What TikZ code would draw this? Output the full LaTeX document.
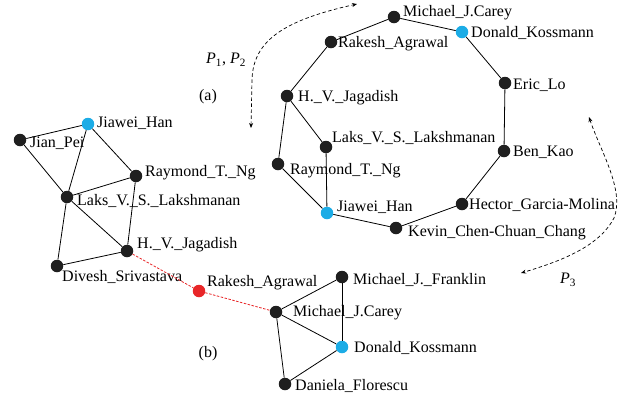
\documentclass[tikz,border=0pt]{standalone}
\usepackage{fontspec}
\setmainfont{Liberation Serif}
\usetikzlibrary{arrows.meta}
\definecolor{hanblue}{RGB}{28,172,230}
\definecolor{bridgered}{RGB}{232,38,40}
\tikzset{
  vtx/.style={circle, fill=black!88, inner sep=0pt, minimum size=12.5pt},
  blue vtx/.style={vtx, fill=hanblue},
  red vtx/.style={vtx, fill=bridgered},
  who/.style={anchor=west, inner sep=0pt, text height=11pt, text depth=3pt,
    font=\fontsize{16}{18}\selectfont},
  tag/.style={inner sep=0pt, font=\fontsize{16}{18}\selectfont},
  edge/.style={line width=0.8pt},
  walk/.style={dashed, dash pattern=on 3.5pt off 2.5pt, line width=0.7pt,
    {Stealth[length=5pt,width=4pt]}-{Stealth[length=5pt,width=4pt]}},
}
\begin{document}
\begin{tikzpicture}[x=1pt, y=-1pt]
      \useasboundingbox (0,0) rectangle (633,400);
      %
      % (b) left part
      \node[blue vtx] (bJH) at (88,124) {};
      \node[vtx] (bJP) at (20,140) {};
      \node[vtx] (bRN) at (136,176) {};
      \node[vtx] (bLL) at (67,197) {};
      \node[vtx] (bHJ) at (127,251) {};
      \node[vtx] (bDS) at (57,266) {};
      \node[red vtx] (bRA) at (199,291) {};
      \node[who] (tbJH) at (97,123) {Jiawei\_Han};
      \node[who] (tbJP) at (30,143) {Jian\_Pei};
      \node[who] (tbRN) at (145,172) {Raymond\_T.\_Ng};
      \node[who] (tbLL) at (77,201) {Laks\_V.\_S.\_Lakshmanan};
      \node[who] (tbHJ) at (137,244) {H.\_V.\_Jagadish};
      \node[who] (tbDS) at (62,277) {Divesh\_Srivastava};
      \node[who] (tbRA) at (207,282) {Rakesh\_Agrawal};
      %
      % (b) right part
      \node[vtx] (bMF) at (342,277) {};
      \node[vtx] (bMC) at (276,312) {};
      \node[blue vtx] (bDK) at (342,347) {};
      \node[vtx] (bDF) at (285,384) {};
      \node[who] (tbMF) at (353,280) {Michael\_J.\_Franklin};
      \node[who] (tbMC) at (293,312) {Michael\_J.Carey};
      \node[who] (tbDK) at (354,348) {Donald\_Kossmann};
      \node[who] (tbDF) at (295,386) {Daniela\_Florescu};
      \node[tag] (lb) at (208,354) {(b)};
      %
      \draw[edge] (bJP) -- (bJH);
      \draw[edge] (bJP) -- (bLL);
      \draw[edge] (bJH) -- (bLL);
      \draw[edge] (bJH) -- (bRN);
      \draw[edge] (bRN) -- (bLL);
      \draw[edge] (bRN) -- (bHJ);
      \draw[edge] (bLL) -- (bHJ);
      \draw[edge] (bLL) -- (bDS);
      \draw[edge] (bDS) -- (bHJ);
      \draw[edge, bridgered, dashed, dash pattern=on 2.5pt off 1.5pt] (bHJ) -- (bRA) -- (bMC);
      \draw[edge] (bMC) -- (bMF);
      \draw[edge] (bMF) -- (bDK);
      \draw[edge] (bMC) -- (bDK);
      \draw[edge] (bMC) -- (bDF);
      \draw[edge] (bDF) -- (bDK);
      %
      % (a) ring
      \node[vtx] (aMC) at (394,17) {};
      \node[blue vtx] (aDK) at (462,32) {};
      \node[vtx] (aEL) at (505,83) {};
      \node[vtx] (aBK) at (504,151) {};
      \node[vtx] (aHG) at (462,204) {};
      \node[vtx] (aKC) at (396,228) {};
      \node[blue vtx] (aJH) at (327,213) {};
      \node[vtx] (aRN) at (278,164) {};
      \node[vtx] (aLL) at (326,147) {};
      \node[vtx] (aHJ) at (287,96) {};
      \node[vtx] (aRA) at (331,42) {};
      \node[who] (taMC) at (403,12) {Michael\_J.Carey};
      \node[who] (taDK) at (471,33) {Donald\_Kossmann};
      \node[who] (taEL) at (513,85) {Eric\_Lo};
      \node[who] (taBK) at (513,152) {Ben\_Kao};
      \node[who] (taHG) at (469,205) {Hector\_Garcia-Molina};
      \node[who] (taKC) at (408,232) {Kevin\_Chen-Chuan\_Chang};
      \node[who] (taJH) at (337,207) {Jiawei\_Han};
      \node[who] (taRN) at (290,170) {Raymond\_T.\_Ng};
      \node[who] (taLL) at (332,138) {Laks\_V.\_S.\_Lakshmanan};
      \node[who] (taHJ) at (298,97) {H.\_V.\_Jagadish};
      \node[who] (taRA) at (338,43) {Rakesh\_Agrawal};
      \node[tag] (la) at (208,97) {(a)};
      %
      \draw[edge] (aMC) -- (aDK) -- (aEL) -- (aBK) -- (aHG) -- (aKC) -- (aJH)
        -- (aRN) -- (aHJ) -- (aRA) -- (aMC);
      \draw[edge] (aHJ) -- (aLL) -- (aJH);
      %
      % walks
      \coordinate (w1) at (251,128);
      \coordinate (w2) at (357,4);
      \coordinate (w3) at (589,117);
      \coordinate (w4) at (521,273);
      \draw[walk] (w1) -- (252,80) .. controls (253,40) and (285,20) .. (w2);
      \draw[walk] (w3) .. controls (600,150) and (625,190) .. (614,218)
        .. controls (600,245) and (565,260) .. (w4);
      \node[tag] (p12) at (226,60) {\textit{P}\textsubscript{1}, \textit{P}\textsubscript{2}};
      \node[tag] (p3) at (568,280) {\textit{P}\textsubscript{3}};
      %
    \end{tikzpicture}
\end{document}
